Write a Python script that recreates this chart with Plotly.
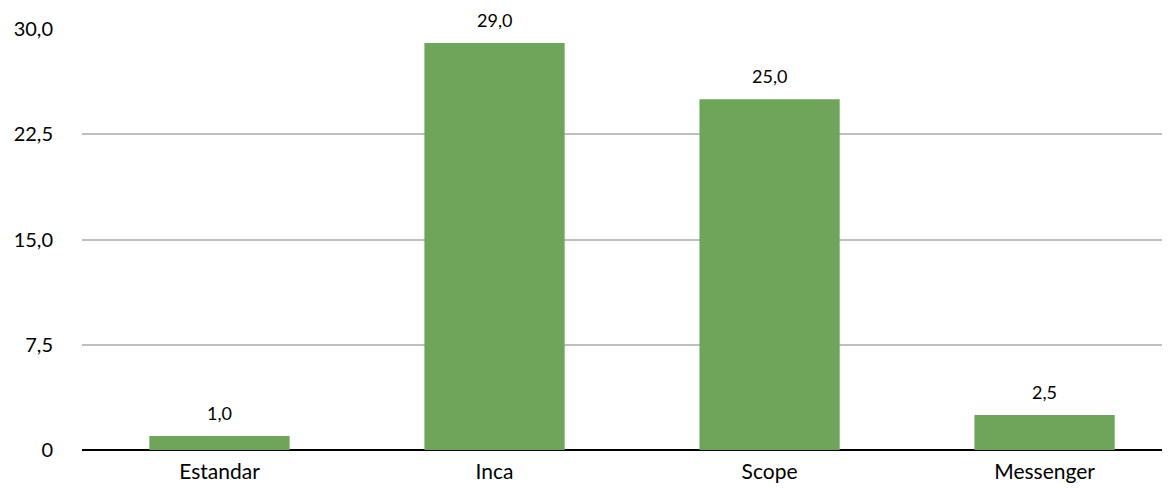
import plotly.graph_objects as go

categories = ["Estandar", "Inca", "Scope", "Messenger"]
values = [1.0, 29.0, 25.0, 2.5]
value_labels = ["1,0", "29,0", "25,0", "2,5"]
y_tickvals = [0, 7.5, 15, 22.5, 30]
y_ticktext = ["0", "7,5", "15,0", "22,5", "30,0"]

FONT = "Lato, 'Open Sans', sans-serif"

fig = go.Figure(
    go.Bar(
        x=categories,
        y=values,
        marker=dict(color="#6FA55A", line=dict(width=0)),
        width=0.51,
        cliponaxis=False,
    )
)

for cat, val, lab in zip(categories, values, value_labels):
    fig.add_annotation(
        x=cat, y=val, text=lab, showarrow=False,
        yanchor="bottom", yshift=10,
        font=dict(family=FONT, size=18, color="#000000"),
    )

# page body adds an 8px offset, so the figure is sized to fit the 1170x488 window
fig.update_layout(
    width=1162,
    height=480,
    margin=dict(l=74, r=0, t=21, b=38),
    paper_bgcolor="white",
    plot_bgcolor="white",
    showlegend=False,
    font=dict(family=FONT, size=20, color="#000000"),
)
fig.update_xaxes(
    range=[-0.5, 3.456],
    showgrid=False,
    showline=False,
    ticks="",
    automargin=False,
    ticklabelstandoff=7,
    tickfont=dict(family=FONT, size=21, color="#000000"),
)
fig.update_yaxes(
    range=[0, 30],
    tickvals=y_tickvals,
    ticktext=y_ticktext,
    showgrid=True,
    gridcolor="#BFBFBF",
    gridwidth=1.5,
    zeroline=True,
    zerolinecolor="#000000",
    zerolinewidth=1.5,
    showline=False,
    ticks="",
    automargin=False,
    ticklabelstandoff=28,
    tickfont=dict(family=FONT, size=20, color="#000000"),
)

fig.write_html("out.html")
